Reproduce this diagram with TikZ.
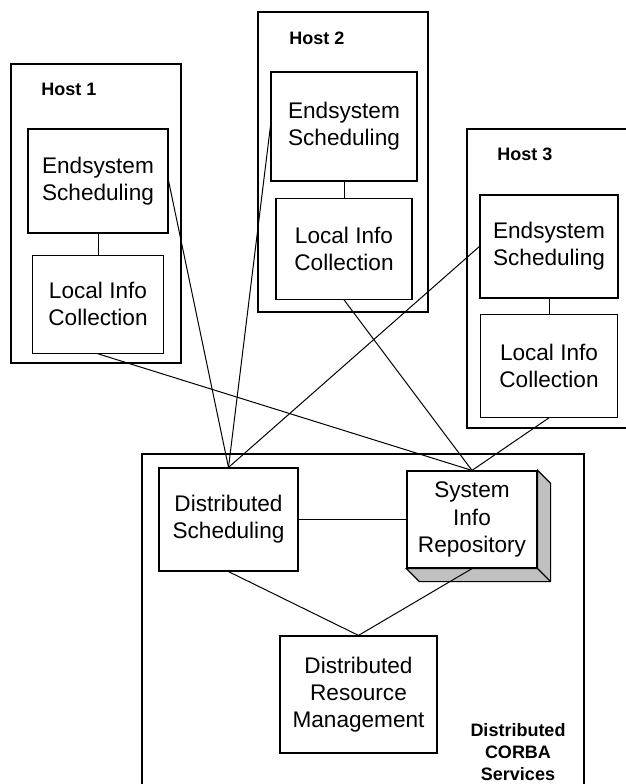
\documentclass[tikz,border=0pt]{standalone}
\usepackage{fontspec}
\setmainfont{Liberation Sans}
\usetikzlibrary{positioning}

\definecolor{shade}{RGB}{192,192,192}

\begin{document}
\begin{tikzpicture}[
x=0.5pt, y=-0.5pt,
host/.style={draw, line width=1.3pt, inner sep=0pt},
unit/.style={draw, line width=0.6pt, inner sep=0pt, align=center, font=\fontsize{11.3}{13.6}\selectfont},
hostlabel/.style={anchor=west, inner sep=0pt, align=center, font=\fontsize{9}{11}\selectfont\bfseries},
link/.style={line width=0.5pt}
]
\useasboundingbox (0,0) rectangle (626,784);

% HOST 1
\node (host1) [host, minimum width=85pt, minimum height=149.5pt] at (96,213.5) {};
\node (lbl1) [hostlabel] at (41,89) {Host 1};
\node (es1) [unit, minimum width=70pt, minimum height=52pt] at (98,181) {Endsystem\\Scheduling};
\node (lic1) [unit, minimum width=65.5pt, minimum height=49pt, below=10.5pt of es1] {Local Info\\Collection};

% HOST 2
\node (host2) [host, minimum width=85pt, minimum height=150pt] at (343,162) {};
\node (lbl2) [hostlabel] at (289,38) {Host 2};
\node (es2) [unit, minimum width=73pt, minimum height=54.5pt] at (344,126.5) {Endsystem\\Scheduling};
\node (lic2) [unit, minimum width=68pt, minimum height=50.5pt, below=8pt of es2] {Local Info\\Collection};

% HOST 3
\node (host3) [host, minimum width=82.5pt, minimum height=149.5pt] at (549.5,278.5) {};
\node (lbl3) [hostlabel] at (497,154) {Host 3};
\node (es3) [unit, minimum width=69pt, minimum height=51.5pt] at (549,246.5) {Endsystem\\Scheduling};
\node (lic3) [unit, minimum width=68.5pt, minimum height=51.5pt, below=7.5pt of es3] {Local Info\\Collection};

% DISTRIBUTED CORBA SERVICES
\node (corba) [host, minimum width=221pt, minimum height=168pt] at (363,622) {};
\node (ds) [unit, minimum width=69.5pt, minimum height=51.5pt] at (228.5,519.5) {Distributed\\Scheduling};
\node (sir) [unit, minimum width=65pt, minimum height=48.5pt] at (472,519.5) {System\\Info\\Repository};
\draw[line width=0.6pt, fill=shade] (sir.north east) -- ++(13,13) -- ([shift={(13,13)}]sir.south east)
  -- ([shift={(13,13)}]sir.south west) -- (sir.south west) -- (sir.south east) -- cycle;
\draw[line width=0.6pt] (sir.south east) -- ++(13,13);
\node (drm) [unit, minimum width=78.5pt, minimum height=58.5pt] at (358.5,694.5) {Distributed\\Resource\\Management};
\node (lblc) [hostlabel, anchor=center] at (518,752) {Distributed\\CORBA\\Services};

% LINKS
\draw[link] (es1) -- (lic1);
\draw[link] (es2) -- (lic2);
\draw[link] (es3) -- (lic3);

% Endsystem -> Distributed Scheduling
\draw[link] (es1.east) -- (ds.north);
\draw[link] (es2.west) -- (ds.north);
\draw[link] (es3.west) -- (ds.north);

% Local Info -> Repository
\draw[link] (lic1.south) -- (sir.north);
\draw[link] (lic2.south) -- (sir.north);
\draw[link] (lic3.south) -- (sir.north);

% Services
\draw[link] (ds.east) -- (sir.west);
\draw[link] (ds.south) -- (drm.north);
\draw[link] (sir.south) -- (drm.north);

\end{tikzpicture}
\end{document}
